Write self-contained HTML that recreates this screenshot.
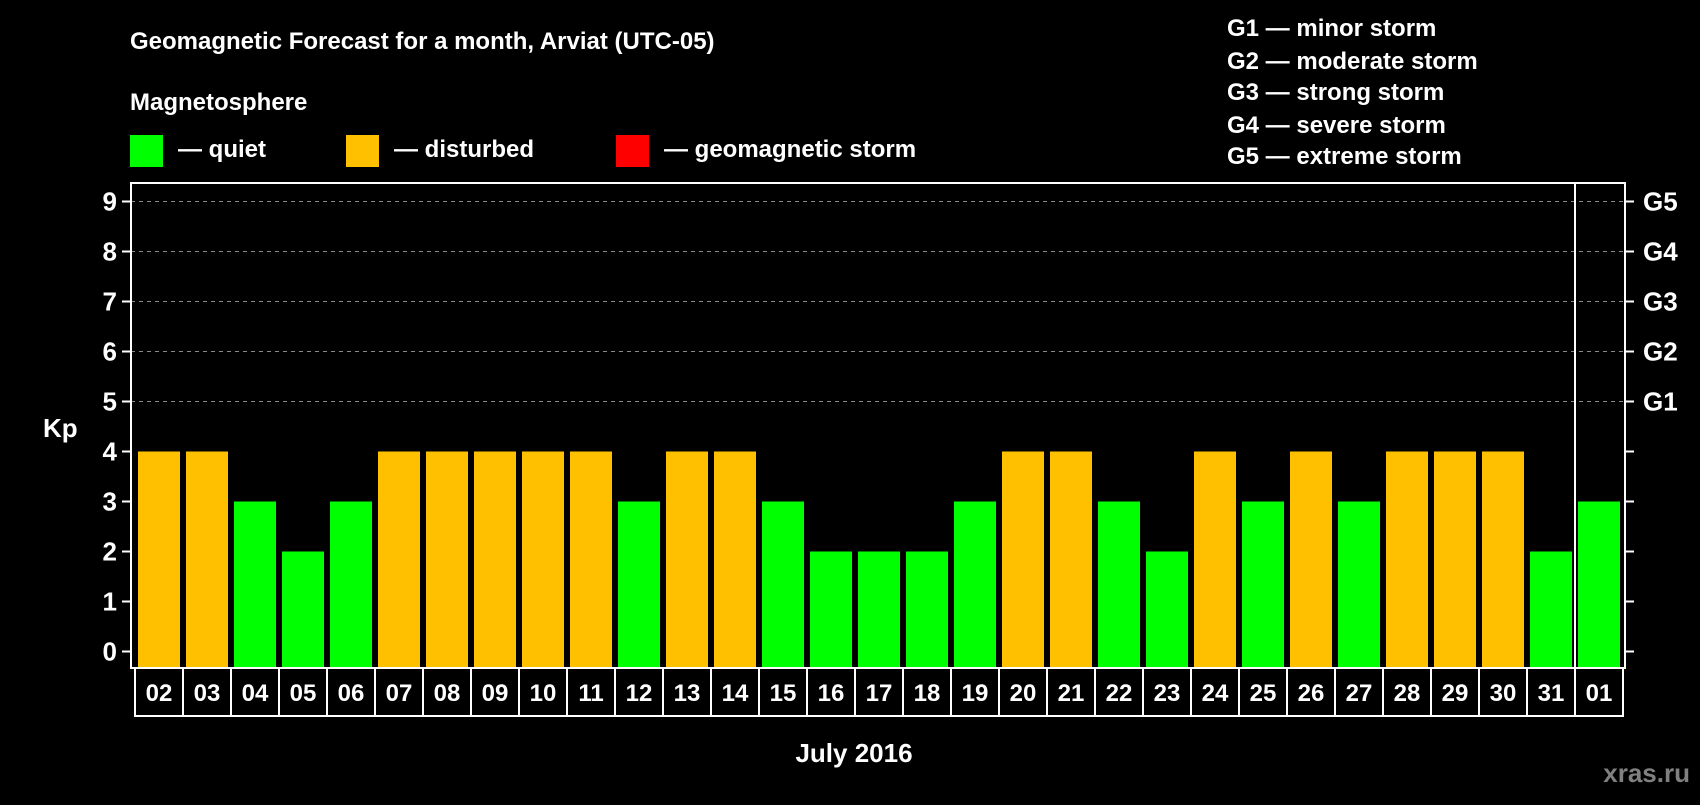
<!DOCTYPE html>
<html><head><meta charset="utf-8"><style>
body{margin:0;background:#000;}
svg text{font-family:"Liberation Sans",Arial,sans-serif;font-weight:bold;fill:#fff;}
</style></head><body>
<svg id="chart" width="1700" height="800" xmlns="http://www.w3.org/2000/svg">
<rect width="1700" height="800" fill="#000"/>
<text x="130" y="49" font-size="24">Geomagnetic Forecast for a month, Arviat (UTC-05)</text>
<text x="130" y="110" font-size="24">Magnetosphere</text>
<g><rect x="130" y="135" width="33" height="32" fill="#00ff00"/><text x="178" y="157" font-size="24">— quiet</text></g>
<g><rect x="346" y="135" width="33" height="32" fill="#ffc000"/><text x="394" y="157" font-size="24">— disturbed</text></g>
<g><rect x="616" y="135" width="33" height="32" fill="#ff0000"/><text x="664" y="157" font-size="24">— geomagnetic storm</text></g>
<g font-size="24">
<text x="1227" y="36">G1 — minor storm</text>
<text x="1227" y="69">G2 — moderate storm</text>
<text x="1227" y="100">G3 — strong storm</text>
<text x="1227" y="133">G4 — severe storm</text>
<text x="1227" y="164">G5 — extreme storm</text>
</g>
<text x="43" y="437" font-size="26">Kp</text>
<text x="854" y="762" font-size="26" text-anchor="middle">July 2016</text>
<text x="1690" y="782" font-size="26" fill="#808080" style="fill:#808080" text-anchor="end">xras.ru</text>
<g id="grid"></g><g id="bars"></g><g id="axes"></g>
</svg>
<script>
const days=["02","03","04","05","06","07","08","09","10","11","12","13","14","15","16","17","18","19","20","21","22","23","24","25","26","27","28","29","30","31","01"];
const kp=[4,4,3,2,3,4,4,4,4,4,3,4,4,3,2,2,2,3,4,4,3,2,4,3,4,3,4,4,4,2,3];
const yTicks=[0,1,2,3,4,5,6,7,8,9];
const gLabels=["G1","G2","G3","G4","G5"];
const NS="http://www.w3.org/2000/svg";
const L=131,R=1625,T=183,B=668,cell0=135,cw=48;
const y=v=>651.5-50*v;
const x=i=>cell0+i*cw;
function mk(t,a,p){const e=document.createElementNS(NS,t);for(const k in a)e.setAttribute(k,a[k]);p.appendChild(e);return e;}
const grid=document.getElementById('grid'),bars=document.getElementById('bars'),axes=document.getElementById('axes');
yTicks.forEach(v=>{
  if(v>=5){const g=mk('line',{x1:L,x2:R,y1:y(v),y2:y(v),stroke:'#888','stroke-dasharray':'4 4','stroke-width':1},grid);
  
  }
  mk('line',{x1:L-9,x2:L,y1:y(v),y2:y(v),stroke:'#fff','stroke-width':2},axes);
  mk('line',{x1:R,x2:R+9,y1:y(v),y2:y(v),stroke:'#fff','stroke-width':2},axes);
  const t=mk('text',{x:L-14,y:y(v)+9,'font-size':26,'text-anchor':'end'},axes);t.textContent=v;
  
  
});
gLabels.forEach((g,i)=>{const t=mk('text',{x:1643,y:y(5+i)+9,'font-size':26},axes);t.textContent=g;
  
  });
kp.forEach((v,i)=>{
  const col=v>=5?'#ff0000':(v>=4?'#ffc000':'#00ff00');
  const r=mk('rect',{x:x(i)+3,y:y(v),width:42,height:B-y(v),fill:col},bars);
  
  
  mk('rect',{x:x(i),y:B,width:cw,height:48,fill:'none',stroke:'#fff','stroke-width':2},axes);
  const t=mk('text',{x:x(i)+cw/2,y:B+33,'font-size':24,'text-anchor':'middle'},axes);t.textContent=days[i];
  
  
});
const f=mk('rect',{x:L,y:T,width:R-L,height:B-T,fill:'none',stroke:'#fff','stroke-width':2},axes);


const s=mk('line',{x1:x(30),x2:x(30),y1:T,y2:B,stroke:'#fff','stroke-width':2},axes);


</script>
</body></html>
